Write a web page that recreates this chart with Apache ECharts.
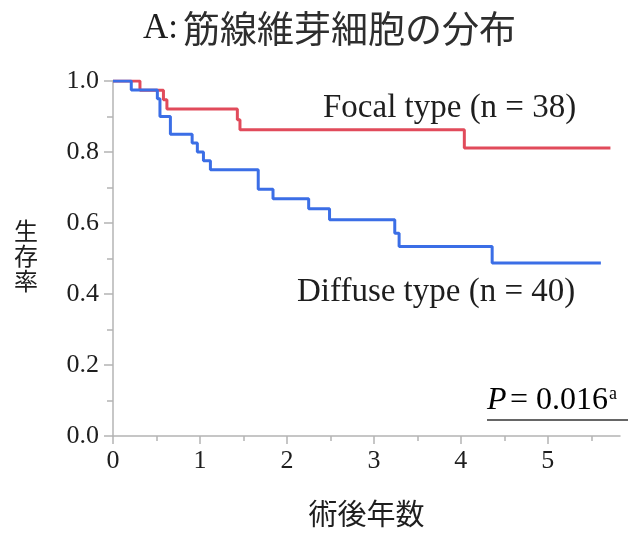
<!DOCTYPE html>
<html>
<head>
<meta charset="utf-8">
<script src="https://cdn.jsdelivr.net/npm/echarts@6/dist/echarts.min.js"></script>
<style>
  html, body { margin: 0; padding: 0; background: #fff; }
  #chart { width: 635px; height: 533px; }
</style>
</head>
<body>
<div id="chart"></div>
<script>
// Kaplan–Meier survival, by myofibroblast distribution pattern
const focalTimes   = [0, 0.31, 0.58, 0.62, 1.43, 1.46, 4.04, 5.72];
const focalSurv    = [1, 0.974, 0.947, 0.921, 0.891, 0.863, 0.811, 0.811];
const diffuseTimes = [0, 0.21, 0.51, 0.54, 0.66, 0.91, 0.97, 1.04, 1.12, 1.67, 1.84, 2.25, 2.49, 3.24, 3.29, 4.36, 5.61];
const diffuseSurv  = [1, 0.975, 0.95, 0.90, 0.85, 0.825, 0.80, 0.775, 0.75, 0.695, 0.668, 0.640, 0.609, 0.571, 0.534, 0.487, 0.487];

const xMajorTicks = [0, 1, 2, 3, 4, 5];
const xMinorTicks = [0.5, 1.5, 2.5, 3.5, 4.5, 5.5];
const xMax = 5.83;

const focalLabel   = 'Focal type (n = 38)';
const diffuseLabel = 'Diffuse type (n = 40)';
const pValue = '0.016';

const SERIF = '"Liberation Serif", "DejaVu Serif", serif';
const CJK = '"Noto Sans CJK JP", "Noto Sans", sans-serif';
const AXIS_GRAY = '#b4b4b4';
const TEXT = '#1e1e1e';
const RED = '#e14b5b';
const BLUE = '#3b6ee6';

const zip = (xs, ys) => xs.map((x, i) => [x, ys[i]]);

const chart = echarts.init(document.getElementById('chart'), null, { renderer: 'canvas' });

const option = {
  backgroundColor: '#fff',
  animation: false,
  title: {
    text: '{a|A:} {b|筋線維芽細胞の分布}',
    left: 138,
    top: 5,
    textStyle: {
      fontWeight: 'normal',
      rich: {
        a: { fontFamily: SERIF, fontSize: 35, color: TEXT, fontWeight: 'normal' },
        b: { fontFamily: CJK, fontSize: 37, color: '#2e2e2e', fontWeight: 'normal' }
      }
    }
  },
  grid: { left: 113, right: 15, top: 81, bottom: 96, containLabel: false },
  xAxis: [
    {
      type: 'value',
      min: 0,
      max: xMax,
      name: '術後年数',
      nameLocation: 'middle',
      nameGap: 63,
      nameTextStyle: { fontFamily: CJK, fontSize: 29, color: TEXT, verticalAlign: 'top' },
      splitLine: { show: false },
      axisLine: { show: true, lineStyle: { color: AXIS_GRAY, width: 1.5 } },
      axisTick: { show: true, customValues: xMajorTicks, length: 8, lineStyle: { color: AXIS_GRAY, width: 1.5 } },
      axisLabel: {
        customValues: xMajorTicks,
        margin: 12,
        fontFamily: SERIF,
        fontSize: 26,
        color: TEXT,
        formatter: v => String(v)
      }
    },
    {
      type: 'value',
      min: 0,
      max: xMax,
      position: 'bottom',
      splitLine: { show: false },
      axisLine: { show: false },
      axisTick: { show: true, customValues: xMinorTicks, length: 5, lineStyle: { color: AXIS_GRAY, width: 1.5 } },
      axisLabel: { show: false }
    }
  ],
  yAxis: {
    type: 'value',
    min: 0,
    max: 1,
    interval: 0.2,
    splitLine: { show: false },
    axisLine: { show: true, lineStyle: { color: AXIS_GRAY, width: 1.5 } },
    axisTick: { show: true, length: 9, lineStyle: { color: AXIS_GRAY, width: 1.5 } },
    minorTick: { show: true, splitNumber: 2, length: 6, lineStyle: { color: AXIS_GRAY, width: 1.5 } },
    axisLabel: {
      margin: 14,
      fontFamily: SERIF,
      fontSize: 26,
      color: TEXT,
      formatter: v => v.toFixed(1)
    }
  },
  series: [
    {
      name: focalLabel,
      type: 'line',
      step: 'end',
      xAxisIndex: 0,
      data: zip(focalTimes, focalSurv),
      symbol: 'none',
      lineStyle: { color: RED, width: 3 },
      z: 3
    },
    {
      name: diffuseLabel,
      type: 'line',
      step: 'end',
      xAxisIndex: 0,
      data: zip(diffuseTimes, diffuseSurv),
      symbol: 'none',
      lineStyle: { color: BLUE, width: 3 },
      z: 4
    }
  ],
  graphic: [
    {
      type: 'text',
      left: 14,
      top: 218,
      style: {
        text: '生\n存\n率',
        font: '24px ' + CJK,
        lineHeight: 25,
        fill: TEXT
      }
    },
    {
      type: 'text',
      x: 323,
      y: 108,
      style: {
        text: focalLabel,
        font: '33px ' + SERIF,
        fill: TEXT,
        verticalAlign: 'middle'
      }
    },
    {
      type: 'text',
      x: 297,
      y: 292,
      style: {
        text: diffuseLabel,
        font: '33px ' + SERIF,
        fill: TEXT,
        verticalAlign: 'middle'
      }
    },
    {
      type: 'text',
      x: 487,
      y: 417,
      style: {
        text: '{p|P} {t|= ' + pValue + '}{s|a}',
        verticalAlign: 'bottom',
        rich: {
          p: { fontFamily: SERIF, fontStyle: 'italic', fontSize: 32, color: TEXT },
          t: { fontFamily: SERIF, fontSize: 32, color: TEXT },
          s: { fontFamily: SERIF, fontSize: 18, color: TEXT, verticalAlign: 'top', padding: [0, 0, 13, 1] }
        }
      }
    },
    {
      type: 'line',
      shape: { x1: 487, y1: 420, x2: 628, y2: 420 },
      style: { stroke: '#333', lineWidth: 1.5 }
    }
  ]
};

chart.setOption(option);
</script>
</body>
</html>
